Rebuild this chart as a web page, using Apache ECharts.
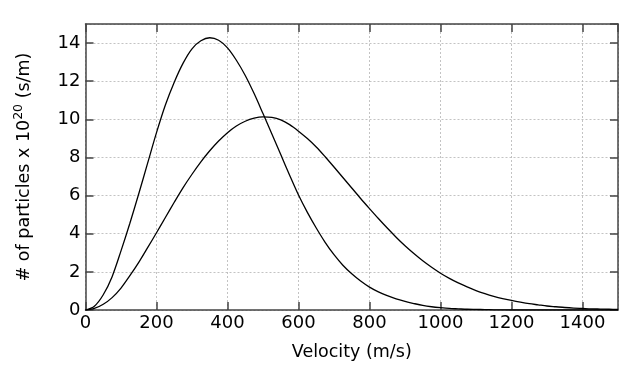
<!DOCTYPE html>
<html>
<head>
<meta charset="utf-8">
<script src="https://cdn.jsdelivr.net/npm/echarts@6/dist/echarts.min.js"></script>
<style>html,body{margin:0;padding:0;background:#fff}#c{width:643px;height:373px}</style>
</head>
<body>
<div id="c"></div>
<script>
// Velocities (m/s), every 25 m/s
var velocities = [0,25,50,75,100,125,150,175,200,225,250,275,300,325,350,375,400,425,450,475,500,525,550,575,600,625,650,675,700,725,750,775,800,825,850,875,900,925,950,975,1000,1025,1050,1075,1100,1125,1150,1175,1200,1225,1250,1275,1300,1325,1350,1375,1400,1425,1450,1475,1500];
// Narrow distribution (peak ~350 m/s)
var narrowValues = [0,0.2,0.8,1.75,3.1,4.55,6.1,7.7,9.3,10.75,11.95,12.95,13.7,14.12,14.28,14.15,13.75,13.1,12.3,11.35,10.3,9.23,8.15,7.07,6.03,5.12,4.3,3.55,2.9,2.35,1.9,1.52,1.2,0.95,0.75,0.58,0.45,0.34,0.24,0.17,0.12,0.08,0.06,0.04,0.03,0.02,0.01,0.005,0,0,0,0,0,0,0,0,0,0,0,0,0];
// Broad distribution (peak ~500 m/s)
var broadValues = [0,0.08,0.3,0.65,1.15,1.8,2.5,3.27,4.05,4.85,5.65,6.42,7.12,7.77,8.35,8.86,9.3,9.65,9.9,10.06,10.13,10.1,9.97,9.72,9.38,8.99,8.55,8.04,7.5,6.95,6.4,5.85,5.32,4.8,4.3,3.82,3.37,2.96,2.58,2.24,1.93,1.66,1.42,1.21,1.02,0.86,0.72,0.6,0.5,0.41,0.33,0.27,0.21,0.17,0.13,0.1,0.08,0.06,0.05,0.04,0.03];
var xTicks = [0,200,400,600,800,1000,1200,1400];
var yTicks = [0,2,4,6,8,10,12,14];

function pairs(vals){ return velocities.map(function(v,i){ return [v, vals[i]]; }); }

var font = 'DejaVu Sans, sans-serif';
var axisCol = '#444';
var chart = echarts.init(document.getElementById('c'));
var baseX = {
  type:'value', min:0, max:1500, interval:200,
  axisLine:{show:true, onZero:false, lineStyle:{color:axisCol, width:1.5}},
  axisTick:{show:true, inside:true, length:8, lineStyle:{color:axisCol, width:1.5}},
  splitLine:{show:false}
};
var baseY = {
  type:'value', min:0, max:15, interval:2,
  axisLine:{show:true, onZero:false, lineStyle:{color:axisCol, width:1.5}},
  axisTick:{show:true, inside:true, length:8, lineStyle:{color:axisCol, width:1.5}},
  splitLine:{show:false}
};
chart.setOption({
  animation:false,
  backgroundColor:'#fff',
  grid:{left:85.5, right:25, top:24, bottom:63, containLabel:false},
  xAxis:[
    Object.assign({}, baseX, {
      position:'bottom',
      name:'Velocity (m/s)', nameLocation:'middle', nameGap:33,
      nameTextStyle:{fontFamily:font, fontSize:17.5, color:'#000'},
      axisLabel:{show:true, margin:4, fontFamily:font, fontSize:18, color:'#000', showMaxLabel:false,
        formatter:function(v){ return xTicks.indexOf(v) >= 0 ? String(v) : ''; }},
      splitLine:{show:true, lineStyle:{color:'#b4b4b4', width:0.8, type:[2,2]}}
    }),
    Object.assign({}, baseX, {position:'top', axisLabel:{show:false}})
  ],
  yAxis:[
    Object.assign({}, baseY, {
      position:'left',
      name:'# of particles x 10{sup|20} (s/m)', nameLocation:'middle', nameGap:50, nameRotate:90,
      nameTextStyle:{fontFamily:font, fontSize:17.5, color:'#000',
        rich:{sup:{fontFamily:font, fontSize:12.5, color:'#000', verticalAlign:'top', padding:[0,0,10,0]}}},
      axisLabel:{show:true, margin:5, fontFamily:font, fontSize:18, color:'#000', showMaxLabel:false,
        formatter:function(v){ return yTicks.indexOf(v) >= 0 ? String(v) : ''; }},
      splitLine:{show:true, lineStyle:{color:'#b4b4b4', width:0.8, type:[2,2]}}
    }),
    Object.assign({}, baseY, {position:'right', axisLabel:{show:false}})
  ],
  series:[
    {type:'line', data:pairs(narrowValues), smooth:0.3, showSymbol:false, symbol:'none',
      lineStyle:{color:'#000', width:1.3}, xAxisIndex:0, yAxisIndex:0},
    {type:'line', data:pairs(broadValues), smooth:0.3, showSymbol:false, symbol:'none',
      lineStyle:{color:'#000', width:1.3}, xAxisIndex:0, yAxisIndex:0}
  ]
});
</script>
</body>
</html>
